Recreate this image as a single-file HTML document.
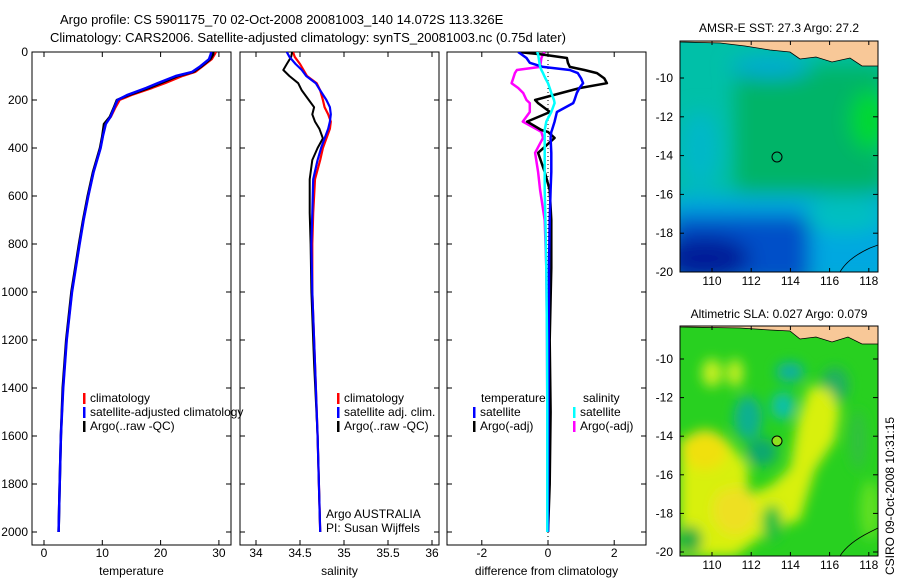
<!DOCTYPE html>
<html><head><meta charset="utf-8">
<style>
html,body{margin:0;padding:0;background:#fff;}
svg{display:block;font-family:"Liberation Sans",sans-serif;}
text{font-size:12px;fill:#000;}
</style></head>
<body>
<svg id="fig" width="900" height="580" viewBox="0 0 900 580" xmlns="http://www.w3.org/2000/svg">
<defs>
<filter id="blur6" x="-20%" y="-20%" width="140%" height="140%"><feGaussianBlur stdDeviation="6"/></filter>
<filter id="blur10" x="-30%" y="-30%" width="160%" height="160%"><feGaussianBlur stdDeviation="10"/></filter>
<clipPath id="clipTop"><rect x="680" y="41" width="198" height="231"/></clipPath>
<clipPath id="clipBot"><rect x="680" y="326" width="198" height="230"/></clipPath>
<clipPath id="cp1"><rect x="32" y="52" width="199" height="493"/></clipPath>
<clipPath id="cp2"><rect x="240" y="52" width="199" height="493"/></clipPath>
<clipPath id="cp3"><rect x="447" y="52" width="199" height="493"/></clipPath>
</defs>
<text x="60" y="24" style="font-size:13px">Argo profile: CS 5901175_70 02-Oct-2008 20081003_140 14.072S 113.326E</text>
<text x="50" y="42" style="font-size:13px">Climatology: CARS2006. Satellite-adjusted climatology: synTS_20081003.nc (0.75d later)</text>

<!-- Top map: SST -->
<g clip-path="url(#clipTop)">
  <rect x="680" y="41" width="198" height="231" fill="#00c0a8"/>
  <g filter="url(#blur10)">
    <rect x="735" y="65" width="150" height="140" fill="#00b468"/>
    <ellipse cx="870" cy="120" rx="20" ry="30" fill="#00d830"/>
    <ellipse cx="700" cy="150" rx="20" ry="40" fill="#00b8c8"/>
    <rect x="670" y="195" width="230" height="90" fill="#00a8e0"/>
    <rect x="670" y="215" width="140" height="70" fill="#0050c8"/>
    <ellipse cx="705" cy="258" rx="45" ry="22" fill="#001c98"/>
    <ellipse cx="845" cy="215" rx="40" ry="18" fill="#00c0c0"/>
    <ellipse cx="770" cy="68" rx="40" ry="10" fill="#00a8d8"/>
  </g>
  <path d="M680 41 L878 41 L878 66 L862 66 L850 58 L832 62 L816 57 L800 59 L790 52 L770 50 L745 46 L720 43 L680 42Z" fill="#f8c898" stroke="#000" stroke-width="0.8"/>
  <path d="M840 272 Q848 258 870 248 L878 245" fill="none" stroke="#000" stroke-width="0.8"/>
  <circle cx="777" cy="157" r="5" fill="none" stroke="#000" stroke-width="1"/>
</g>
<rect x="680" y="41" width="198" height="231" fill="none" stroke="#000"/>
<text x="779" y="32" text-anchor="middle">AMSR-E SST: 27.3 Argo: 27.2</text>

<!-- Bottom map: SLA -->
<g clip-path="url(#clipBot)">
  <rect x="680" y="326" width="198" height="230" fill="#28d020"/>
  <g filter="url(#blur6)">
    <ellipse cx="748" cy="418" rx="14" ry="22" fill="#10b090"/>
    <ellipse cx="762" cy="452" rx="15" ry="14" fill="#10a870"/>
    <ellipse cx="783" cy="406" rx="12" ry="14" fill="#10c0a8"/>
    <ellipse cx="790" cy="372" rx="14" ry="10" fill="#10b0a0"/>
    <ellipse cx="835" cy="385" rx="14" ry="18" fill="#20b060"/>
    <path d="M680 438 L725 438 L748 465 L748 495 L772 485 L790 468 L798 420 L810 385 L830 390 L840 410 L835 440 L815 470 L800 520 L770 530 L735 556 L680 556Z" fill="#d8f010"/>
    <ellipse cx="705" cy="450" rx="22" ry="20" fill="#f0e010"/>
    <ellipse cx="735" cy="510" rx="22" ry="25" fill="#eee020"/>
    <ellipse cx="720" cy="480" rx="25" ry="10" fill="#d8f010"/>
    <ellipse cx="712" cy="373" rx="10" ry="14" fill="#c8f020"/>
    <ellipse cx="735" cy="373" rx="8" ry="14" fill="#c8f020"/>
    <ellipse cx="772" cy="523" rx="10" ry="18" fill="#20c040"/>
    <ellipse cx="858" cy="440" rx="8" ry="30" fill="#30c040"/>
    <ellipse cx="870" cy="510" rx="10" ry="30" fill="#60e020"/>
    <ellipse cx="690" cy="540" rx="12" ry="14" fill="#20b040"/>
  </g>
  <path d="M680 326 L878 326 L878 344 L862 344 L848 337 L832 342 L816 337 L800 339 L790 331 L770 330 L740 328 L680 327Z" fill="#f8c898" stroke="#000" stroke-width="0.8"/>
  <path d="M840 556 Q848 543 870 532 L878 528" fill="none" stroke="#000" stroke-width="0.8"/>
  <circle cx="777" cy="441" r="5" fill="#90e020" stroke="#000" stroke-width="1"/>
</g>
<rect x="680" y="326" width="198" height="230" fill="none" stroke="#000"/>
<text x="779" y="318" text-anchor="middle">Altimetric SLA: 0.027 Argo: 0.079</text>
<text transform="translate(894,575) rotate(-90)">CSIRO 09-Oct-2008 10:31:15</text>

<g id="plots"></g>
</svg>
<script>
// ---- data ----
const depthTicks = [0,200,400,600,800,1000,1200,1400,1600,1800,2000];
const tempTicks = [0,10,20,30];
const salTicks = [34,34.5,35,35.5,36];
const diffTicks = [-2,0,2];
const latTicks = [-10,-12,-14,-16,-18,-20];
const lonTicks = [110,112,114,116,118];

const tDepth = [0,10,30,60,83,100,130,150,180,200,230,270,300,350,400,500,600,700,800,1000,1200,1400,1600,1800,2000];
const tArgo = [29,29,28.5,27,25.6,23,20,18,14.5,12.5,12,11.3,10.3,10,9.6,8.4,7.5,6.7,6,4.7,3.8,3.2,2.9,2.7,2.5];
const tClim = [29.5,29.3,28.8,27.2,26,23.8,20.8,18.6,15,13,12.3,11.5,10.5,10.1,9.7,8.5,7.6,6.8,6.1,4.8,3.9,3.3,2.9,2.7,2.5];
const tSat = [28.7,28.6,28.3,26.8,25.4,22.6,19.5,17.5,14.2,12.6,12.1,11.4,10.6,10.1,9.7,8.5,7.6,6.8,6.1,4.8,3.9,3.3,2.9,2.7,2.5];

const sDepth = [0,20,50,75,100,130,160,200,230,260,290,320,360,400,450,530,670,800,1000,1300,1600,2000];
const sClim = [34.42,34.44,34.5,34.54,34.58,34.69,34.73,34.76,34.78,34.82,34.85,34.84,34.8,34.76,34.73,34.67,34.65,34.64,34.64,34.67,34.7,34.73];
const sSat = [34.35,34.38,34.45,34.52,34.57,34.68,34.73,34.8,34.84,34.85,34.84,34.82,34.78,34.74,34.7,34.65,34.64,34.63,34.64,34.67,34.7,34.73];
const sArgo = [34.41,34.4,34.35,34.31,34.38,34.48,34.52,34.6,34.66,34.64,34.67,34.72,34.76,34.7,34.64,34.61,34.61,34.62,34.63,34.66,34.7,34.73];

const dDepth = [0,10,25,45,62,75,88,110,130,150,171,200,213,250,290,325,333,358,420,500,575,700,900,1200,1500,1800,2000];
const dTempArgo = [-0.9,-0.2,0.57,0.6,0.66,1.1,1.48,1.7,1.78,0.97,0.4,-0.39,-0.3,0.06,-0.63,-0.2,0,0.2,-0.3,-0.1,0.05,0.1,0.1,0.05,0.08,0.05,0];
const dTempSat = [-0.9,-0.8,-0.65,-0.55,-0.15,0.66,0.9,1.0,1.06,0.95,0.87,0.8,0.76,0.27,0.2,0.12,0.1,0.08,0.1,0.1,0.08,0.05,0.03,0.02,0.01,0,0];
const dSalSat = [-0.33,-0.3,-0.28,-0.26,-0.24,-0.2,-0.15,-0.08,0,0.05,0.1,0.18,0.2,0.1,-0.05,-0.1,-0.1,-0.1,-0.1,-0.1,-0.1,-0.08,-0.05,-0.03,-0.02,-0.02,-0.02];
const dSalArgo = [-0.1,-0.15,-0.2,-0.22,-0.24,-0.94,-1.0,-1.05,-1.1,-0.9,-0.75,-0.65,-0.55,-0.55,-0.76,-0.3,-0.2,-0.15,-0.39,-0.3,-0.24,-0.1,-0.05,-0.03,-0.02,-0.02,-0.02];

// ---- scales ----
const NS = 'http://www.w3.org/2000/svg';
const g = document.getElementById('plots');
const TOP = 52, BOT = 545;
function yD(d){ return TOP + d*0.24; }
function xT(v){ return 44 + v*5.83; }
function xS(v){ return 256 + (v-34)*88; }
function xDf(v){ return 548 + v*33.1; }
function yLatTop(l){ return 78 + (-10 - l)*19.4; }
function yLatBot(l){ return 359 + (-10 - l)*19.3; }
function xLon(l){ return 712 + (l-110)*19.6; }

function el(tag, attrs, parent){
  const e = document.createElementNS(NS, tag);
  for (const k in attrs) e.setAttribute(k, attrs[k]);
  (parent||g).appendChild(e);
  return e;
}
function txt(x,y,s,anchor,parent){
  const t = el('text',{x:x,y:y,'text-anchor':anchor||'start'},parent);
  t.textContent = s;
  return t;
}

const panels = [
  {x0:32,x1:231,xs:xT,ticks:tempTicks,label:'temperature',name:'temperature-panel',clip:'cp1'},
  {x0:240,x1:439,xs:xS,ticks:salTicks,label:'salinity',name:'salinity-panel',clip:'cp2'},
  {x0:447,x1:646,xs:xDf,ticks:diffTicks,label:'difference from climatology',name:'difference-panel',clip:'cp3'}
];
panels.forEach((p,i)=>{
  const pg = el('g',{});
  
  
  const fr = el('rect',{x:p.x0,y:TOP,width:p.x1-p.x0,height:BOT-TOP,fill:'#fff',stroke:'#000'},pg);
  
  
  p.ticks.forEach(v=>{
    const x = p.xs(v);
    el('line',{x1:x,x2:x,y1:BOT,y2:BOT-5,stroke:'#000'},pg);
    el('line',{x1:x,x2:x,y1:TOP,y2:TOP+5,stroke:'#000'},pg);
    const t = txt(x,557,String(v),'middle',pg);
    
    
  });
  depthTicks.forEach(d=>{
    const y = yD(d);
    el('line',{x1:p.x0,x2:p.x0+5,y1:y,y2:y,stroke:'#000'},pg);
    el('line',{x1:p.x1,x2:p.x1-5,y1:y,y2:y,stroke:'#000'},pg);
    if(i===0){
      const t = txt(28,y+4,String(d),'end',pg);
      
      
    }
  });
  const xl = txt((p.x0+p.x1)/2,575,p.label,'middle',pg);
  
  
});

function line(depths, vals, xs, color, w, clip, name){
  const pts = depths.map((d,k)=>xs(vals[k]).toFixed(1)+','+yD(d).toFixed(1)).join(' ');
  const pl = el('polyline',{points:pts,fill:'none',stroke:color,'stroke-width':w,'stroke-linejoin':'round','clip-path':'url(#'+clip+')'});
  
  
}
line(tDepth,tClim,xT,'#ff0000',2,'cp1','temp-climatology-line');
line(tDepth,tArgo,xT,'#000000',2.5,'cp1','temp-argo-line');
line(tDepth,tSat,xT,'#0000ff',2.5,'cp1','temp-satellite-line');

line(sDepth,sClim,xS,'#ff0000',2.2,'cp2','sal-climatology-line');
line(sDepth,sArgo,xS,'#000000',2,'cp2','sal-argo-line');
line(sDepth,sSat,xS,'#0000ff',2.2,'cp2','sal-satellite-line');

const zl = el('line',{x1:xDf(0),x2:xDf(0),y1:TOP,y2:BOT,stroke:'#000','stroke-dasharray':'1,3'});


line(dDepth,dSalArgo,xDf,'#ff00ff',2.5,'cp3','diff-sal-argo-line');
line(dDepth,dTempArgo,xDf,'#000000',2.5,'cp3','diff-temp-argo-line');
line(dDepth,dTempSat,xDf,'#0000ff',2.5,'cp3','diff-temp-satellite-line');
line(dDepth,dSalSat,xDf,'#00ffff',2.5,'cp3','diff-sal-satellite-line');

// legends
function legItem(x,y,color,label,name){
  const lg = el('g',{});
  
  
  el('rect',{x:x,y:y-9,width:2.5,height:11,fill:color},lg);
  txt(x+7,y,label,'start',lg);
}
legItem(83,402,'#ff0000','climatology','legend-climatology');
legItem(83,416,'#0000ff','satellite-adjusted climatology','legend-satellite-adjusted');
legItem(83,430,'#000000','Argo(..raw -QC)','legend-argo');
legItem(337,402,'#ff0000','climatology','legend-sal-climatology');
legItem(337,416,'#0000ff','satellite adj. clim.','legend-sal-satellite');
legItem(337,430,'#000000','Argo(..raw -QC)','legend-sal-argo');
const lt = txt(481,402,'temperature');  
const ls = txt(583,402,'salinity');  
legItem(473,416,'#0000ff','satellite','legend-diff-temp-satellite');
legItem(473,430,'#000000','Argo(-adj)','legend-diff-temp-argo');
legItem(573,416,'#00ffff','satellite','legend-diff-sal-satellite');
legItem(573,430,'#ff00ff','Argo(-adj)','legend-diff-sal-argo');
const a1 = txt(326,518,'Argo AUSTRALIA');  
const a2 = txt(326,532,'PI: Susan Wijffels');  

// map ticks
[[yLatTop,41,272],[yLatBot,326,556]].forEach(([ys,t0,t1])=>{
  latTicks.forEach(l=>{
    const y = ys(l);
    if(y<t0||y>t1+1) return;
    el('line',{x1:878,x2:873,y1:y,y2:y,stroke:'#000'});
    el('line',{x1:680,x2:684,y1:y,y2:y,stroke:'#000'});
    const t = txt(673,y+4,String(l),'end');
    
    
  });
  lonTicks.forEach(l=>{
    const x = xLon(l);
    el('line',{x1:x,x2:x,y1:t1,y2:t1-4,stroke:'#000'});
    el('line',{x1:x,x2:x,y1:t0,y2:t0+4,stroke:'#000'});
    const t = txt(x,t1+13,String(l),'middle');
    
    
  });
});
</script>
</body></html>
